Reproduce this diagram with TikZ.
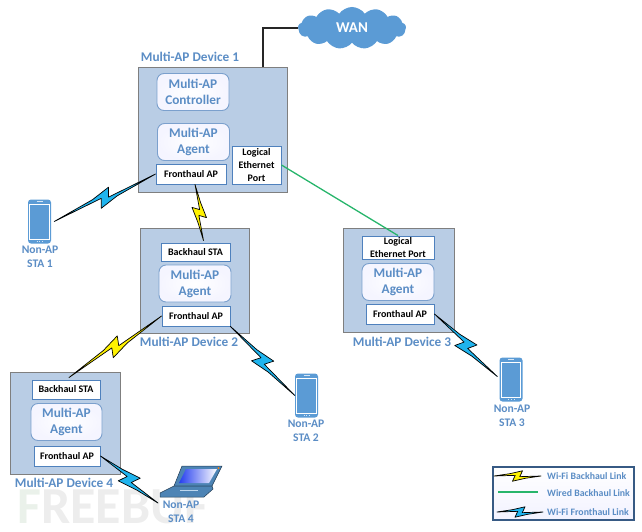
\documentclass[tikz,border=0pt]{standalone}
\usepackage{fontspec}
\setmainfont{Carlito}
\usetikzlibrary{shapes,shapes.symbols,calc,shadows}

\definecolor{devfill}{HTML}{B9CDE5}
\definecolor{devline}{HTML}{7F7F7F}
\definecolor{labelblue}{HTML}{5B8DC5}
\definecolor{boxline}{HTML}{4F81BD}
\definecolor{cloudblue}{HTML}{5B9BD5}
\definecolor{wifiyellow}{HTML}{FFF200}
\definecolor{wifiblue}{HTML}{1FB4EE}
\definecolor{wiregreen}{HTML}{27B56B}

\tikzset{
    device/.style={draw=devline,fill=devfill,line width=0.9pt,inner sep=0pt,
        drop shadow={opacity=0.25,shadow xshift=1pt,shadow yshift=-1pt}},
    devlabel/.style={text=labelblue,font=\fontsize{13.3}{16}\selectfont\bfseries,inner sep=0pt},
    role/.style={draw=boxline!75,line width=0.9pt,rounded corners=7pt,inner sep=0pt,align=center,
        inner color=white,outer color=blue!4!white,text=labelblue,
        minimum width=72pt,minimum height=37pt,font=\fontsize{13.3}{16}\selectfont\bfseries},
    port/.style={draw=boxline,line width=0.9pt,left color=white,right color=white,inner sep=0pt,
        align=center,font=\fontsize{10}{13}\selectfont\bfseries,minimum height=20pt},
    stalabel/.style={text=labelblue,align=center,inner sep=0pt,font=\fontsize{11.6}{14}\selectfont\bfseries},
    legendtext/.style={text=labelblue,anchor=west,inner sep=0pt,font=\fontsize{9.8}{12}\selectfont\bfseries},
    boltline/.style={draw=black,line width=0.7pt,line join=round},
    wanline/.style={draw=black!85,line width=1.3pt},
    wireline/.style={draw=wiregreen,line width=1.3pt},
}

% lightning link between two points
\newcommand{\boltlink}[4][1]{%
    \coordinate (mid) at ($(#2)!.5!(#3)$);
    \draw[boltline,fill=#4] (#2)
        -- ($(mid)!#1*-12pt!(#3)!#1*3.5pt!90:(#3)$)
        -- ($(mid)!#1*7.7pt!(#3)!#1*8pt!90:(#3)$)
        -- ($(mid)!#1*3.5pt!(#3)!#1*-1pt!90:(#3)$)
        -- (#3)
        -- ($(mid)!#1*12pt!(#3)!#1*-3.5pt!90:(#3)$)
        -- ($(mid)!#1*-7.7pt!(#3)!#1*-8pt!90:(#3)$)
        -- ($(mid)!#1*-3.5pt!(#3)!#1*1pt!90:(#3)$)
        -- cycle;
}

% handset, 23 wide and 44 high
\newcommand{\handset}[2]{%
    \node[fill=cloudblue,rounded corners=3pt,minimum width=23pt,minimum height=44pt,inner sep=0pt] (#1) at (#2) {};
    \draw[white,line width=0.8pt] ($(#1.north west)+(2pt,-5pt)$) rectangle ($(#1.south east)+(-2pt,4.5pt)$);
    \draw[white!75!cloudblue,line width=0.8pt] ($(#1.north)+(-3pt,-2.5pt)$) -- ($(#1.north)+(3pt,-2.5pt)$);
    \draw[white!75!cloudblue,line width=0.9pt,dotted] ($(#1.south)+(-3pt,2pt)$) -- ($(#1.south)+(3pt,2pt)$);
}

\begin{document}
\begin{tikzpicture}[x=1pt,y=-1pt]
    \useasboundingbox (0,0) rectangle (642,532);

    % watermark
    \node[inner sep=0pt,anchor=west,font=\fontsize{52}{52}\selectfont\bfseries] (mark) at (17,507)
        {\textcolor{green!20!gray!14}{F}\textcolor{gray!14}{REEBUF}};

    % devices
    \node[device,minimum width=149pt,minimum height=125pt] (dev1) at (212.5,129.5) {};
    \node[device,minimum width=109pt,minimum height=105pt] (dev2) at (194.5,280.5) {};
    \node[device,minimum width=111pt,minimum height=104pt] (dev3) at (398.5,280) {};
    \node[device,minimum width=110pt,minimum height=102pt] (dev4) at (65,423) {};

    \node[devlabel] (name1) at (190,57) {Multi-AP Device 1};
    \node[devlabel] (name2) at (189,342) {Multi-AP Device 2};
    \node[devlabel] (name3) at (402,342) {Multi-AP Device 3};
    \node[devlabel] (name4) at (64,483) {Multi-AP Device 4};

    % device 1
    \node[role] (ctrl1) at (193,92) {Multi-AP\\Controller};
    \node[role] (agent1) at (193.5,142) {Multi-AP\\Agent};
    \node[port,minimum width=70pt] (fh1) at (191,174) {Fronthaul AP};
    \node[port,minimum width=49pt,minimum height=38pt] (log1) at (256.5,165) {Logical\\Ethernet\\Port};

    % device 2
    \node[port,minimum width=69pt,minimum height=18pt] (bh2) at (195.5,252) {Backhaul STA};
    \node[role] (agent2) at (195,283.5) {Multi-AP\\Agent};
    \node[port,minimum width=68pt] (fh2) at (196,316) {Fronthaul AP};

    % device 3
    \node[port,minimum width=72pt,minimum height=23pt] (log3) at (398,247.5) {Logical\\Ethernet Port};
    \node[role] (agent3) at (398,282) {Multi-AP\\Agent};
    \node[port,minimum width=68pt] (fh3) at (400,314) {Fronthaul AP};

    % device 4
    \node[port,minimum width=68pt,minimum height=19pt] (bh4) at (66,389.5) {Backhaul STA};
    \node[role,minimum width=71pt] (agent4) at (66.5,422) {Multi-AP\\Agent};
    \node[port,minimum width=66pt] (fh4) at (67,456) {Fronthaul AP};

    % cloud
    \node[cloud,cloud puffs=13,cloud puff arc=110,aspect=2.6,fill=cloudblue,inner sep=0pt,
        minimum width=108pt,minimum height=42pt,text=white,
        font=\fontsize{15}{16}\selectfont\bfseries] (wan) at (352,28) {WAN};
    \draw[wanline] (dev1.north -| 263,0) |- (wan.west);

    % stations
    \handset{sta1}{39.5,221.5}
    \handset{sta2}{306.5,395.5}
    \handset{sta3}{511,379.5}
    \node[stalabel] (txt1) at (40,257) {Non-AP\\STA 1};
    \node[stalabel] (txt2) at (306,431) {Non-AP\\STA 2};
    \node[stalabel] (txt3) at (512,416) {Non-AP\\STA 3};
    \node[stalabel] (txt4) at (181,512) {Non-AP\\STA 4};

    % laptop
    \coordinate (sta4) at (158,503);
    \path[draw=black!60!cloudblue,fill=cloudblue!85!black,line width=0.5pt]
        (182,466) -- (222,466) -- (212,486) -- (174,486) -- cycle;
    \path[left color=blue!60!cloudblue,right color=white] (186,469) -- (217,469) -- (209,483) -- (179,483) -- cycle;
    \path[draw=black!60!cloudblue,fill=cloudblue!85!black,line width=0.5pt]
        (174,486) -- (212,486) -- (213,489) -- (204,497) -- (160,497) -- (160,493) -- cycle;
    \draw[white!60!cloudblue,line width=1pt] (180,490) -- (198,490);
    \fill[orange] (218.5,468) circle (1pt);

    % links
    \draw[wireline] (log1.east) -- (log3.north);
    \boltlink{fh1.west}{[xshift=3pt]sta1.east}{wifiblue}
    \boltlink[0.8]{[xshift=4pt]fh1.south}{[xshift=8pt,yshift=2pt]bh2.north}{wifiyellow}
    \boltlink{[xshift=3pt,yshift=2pt]bh4.north}{fh2.west}{wifiyellow}
    \boltlink{fh2.south east}{sta2.west}{wifiblue}
    \boltlink{fh3.east}{[xshift=-2pt,yshift=3pt]sta3.west}{wifiblue}
    \boltlink{fh4.east}{sta4}{wifiblue}

    % legend
    \node[draw=black!30!boxline,line width=1.2pt,top color=white,bottom color=blue!5!white,
        minimum width=141pt,minimum height=53pt,inner sep=0pt,
        drop shadow={opacity=0.25,shadow xshift=1pt,shadow yshift=-1pt}] (legend) at (563.5,493.5) {};
    \coordinate (lega) at (494,476);
    \coordinate (legb) at (541,476);
    \coordinate (legc) at (498,492);
    \coordinate (legd) at (538,492);
    \coordinate (lege) at (497,512);
    \coordinate (legf) at (543,512);
    \boltlink[0.65]{lega}{legb}{wifiyellow}
    \draw[wireline] (legc) -- (legd);
    \boltlink[0.65]{lege}{legf}{wifiblue}
    \node[legendtext] (legtxt1) at (547,476) {Wi-Fi Backhaul Link};
    \node[legendtext] (legtxt2) at (547,493) {Wired Backhaul Link};
    \node[legendtext] (legtxt3) at (547,512) {Wi-Fi Fronthaul Link};
\end{tikzpicture}
\end{document}
